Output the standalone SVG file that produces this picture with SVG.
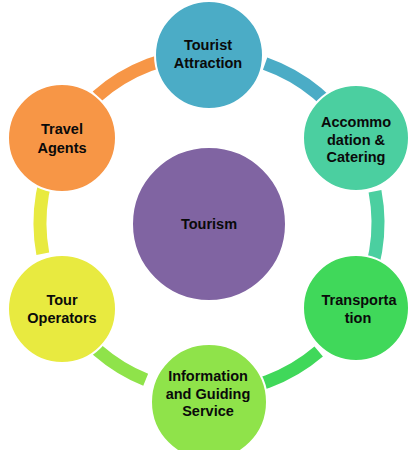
<svg xmlns="http://www.w3.org/2000/svg" width="410" height="450" viewBox="0 0 410 450">
  <style>
    .arc { fill: none; stroke-width: 13; stroke-linecap: butt; }
    .node { stroke: #ffffff; stroke-width: 2; }
    .lbl { font-family: "Liberation Sans", Arial, sans-serif; font-weight: bold; font-size: 14.5px; fill: #0a0a0a; text-anchor: middle; }
  </style>
  <rect width="410" height="450" fill="#ffffff"/>
  <g id="connectors">
    <path class="arc" stroke="#F79646" d="M97.0,96.4 A169,169 0 0 1 209,54"/>
    <path class="arc" stroke="#4BACC6" d="M265.1,63.6 A169,169 0 0 1 355.4,138.5"/>
    <path class="arc" stroke="#4BCFA0" d="M375.0,191.3 A169,169 0 0 1 355.4,307.5"/>
    <path class="arc" stroke="#40D85A" d="M318.7,351.5 A169,169 0 0 1 209,392"/>
    <path class="arc" stroke="#8FE34A" d="M145.7,379.7 A169,169 0 0 1 62.6,307.5"/>
    <path class="arc" stroke="#E8EA40" d="M42.8,253.8 A169,169 0 0 1 62.6,138.5"/>
  </g>
  <g id="tourism">
    <circle class="node" cx="209" cy="224" r="77" fill="#8064A2"/>
    <text class="lbl" x="209" y="229">Tourism</text>
  </g>
  <g id="tourist-attraction">
    <circle class="node" cx="209" cy="55" r="54" fill="#4BACC6"/>
    <text class="lbl" x="208" y="50">Tourist</text>
    <text class="lbl" x="208" y="68">Attraction</text>
  </g>
  <g id="accommodation">
    <circle class="node" cx="356" cy="138" r="53" fill="#4BCFA0"/>
    <text class="lbl" x="356" y="127">Accommo</text>
    <text class="lbl" x="356" y="145">dation &amp;</text>
    <text class="lbl" x="356" y="162">Catering</text>
  </g>
  <g id="transportation">
    <circle class="node" cx="356" cy="308" r="53" fill="#40D85A"/>
    <text class="lbl" x="359" y="305">Transporta</text>
    <text class="lbl" x="358" y="323">tion</text>
  </g>
  <g id="information">
    <circle class="node" cx="209" cy="402" r="58" fill="#8FE34A"/>
    <text class="lbl" x="208" y="381">Information</text>
    <text class="lbl" x="208" y="399">and Guiding</text>
    <text class="lbl" x="208" y="416">Service</text>
  </g>
  <g id="tour-operators">
    <circle class="node" cx="62" cy="309" r="54" fill="#E8EA40"/>
    <text class="lbl" x="62" y="305">Tour</text>
    <text class="lbl" x="62" y="323">Operators</text>
  </g>
  <g id="travel-agents">
    <circle class="node" cx="62" cy="138" r="54" fill="#F79646"/>
    <text class="lbl" x="62" y="134">Travel</text>
    <text class="lbl" x="62" y="153">Agents</text>
  </g>
</svg>
